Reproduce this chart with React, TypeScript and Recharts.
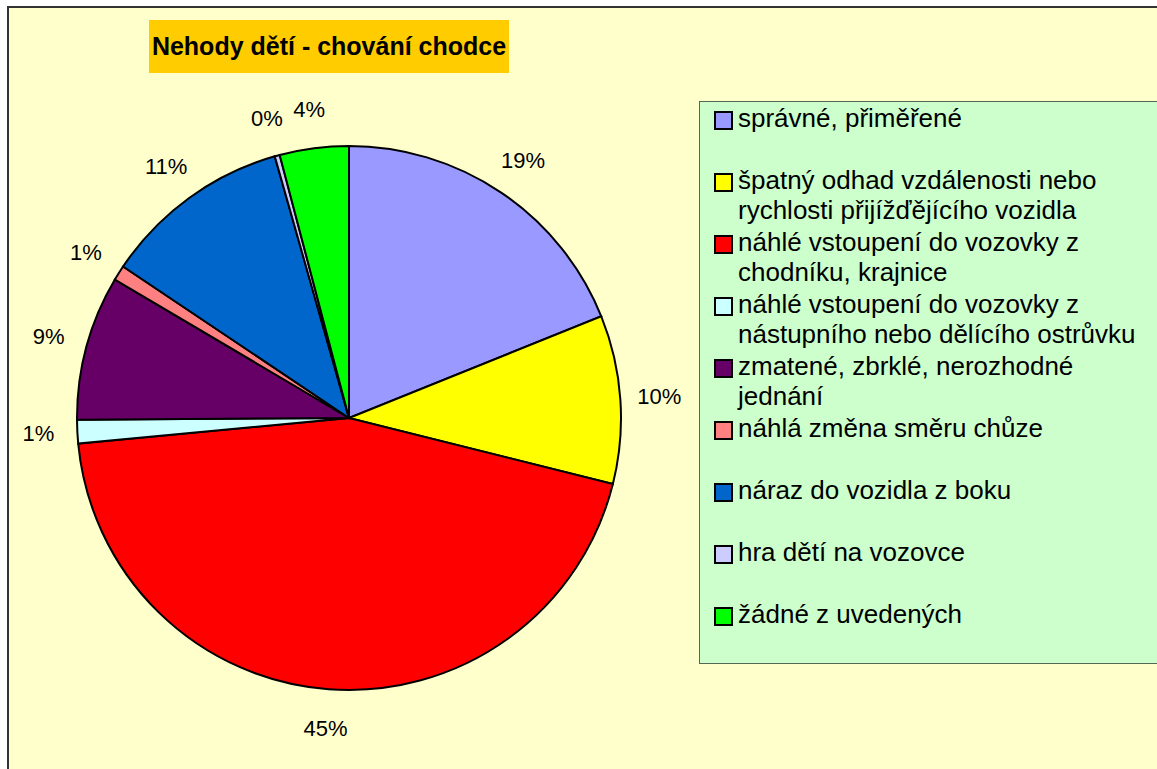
import { PieChart, Pie, Cell, Legend } from "recharts";

const categories = [
  "správné, přiměřené",
  "špatný odhad vzdálenosti nebo rychlosti přijížďějícího vozidla",
  "náhlé vstoupení do vozovky z chodníku, krajnice",
  "náhlé vstoupení do vozovky z nástupního nebo dělícího ostrůvku",
  "zmatené, zbrklé, nerozhodné jednání",
  "náhlá změna směru chůze",
  "náraz do vozidla z boku",
  "hra dětí na vozovce",
  "žádné z uvedených",
];

const shares = [18.9, 10.0, 44.6, 1.4, 8.6, 0.9, 11.2, 0.3, 4.1];

const colors = [
  "#9999FF",
  "#FFFF00",
  "#FF0000",
  "#CCFFFF",
  "#660066",
  "#FF8080",
  "#0066CC",
  "#CCCCFF",
  "#00FF00",
];

const chartData = categories.map((name, i) => ({ name, value: shares[i] }));

const RADIAN = Math.PI / 180;
const FONT = "Arial, 'Liberation Sans', sans-serif";

function renderLabel(props: any) {
  const { cx, cy, midAngle, outerRadius, percent } = props;
  const r = outerRadius + 39;
  const x = cx + r * Math.cos(-midAngle * RADIAN);
  const y = cy + r * Math.sin(-midAngle * RADIAN);
  return (
    <text
      x={x}
      y={y}
      fill="#000"
      fontSize={22}
      fontFamily={FONT}
      textAnchor="middle"
      dominantBaseline="central"
    >
      {Math.round(percent * 100)}%
    </text>
  );
}

function LegendBox() {
  return (
    <div
      style={{
        position: "absolute",
        left: 699,
        top: 101,
        width: 470,
        height: 563,
        background: "#CCFFCC",
        border: "1px solid #556655",
        boxSizing: "border-box",
        paddingTop: 1,
        fontFamily: FONT,
        fontSize: 26,
        lineHeight: "30px",
        color: "#000",
      }}
    >
      {categories.map((name, i) => (
        <div
          key={name}
          style={{ display: "flex", height: 62, paddingLeft: 14 }}
        >
          <span
            style={{
              width: 15,
              height: 15,
              border: "2px solid #000",
              background: colors[i],
              marginTop: 8,
              marginRight: 5,
              flexShrink: 0,
            }}
          />
          <span style={{ width: 412 }}>{name}</span>
        </div>
      ))}
    </div>
  );
}

export default function App() {
  return (
    <div
      style={{
        position: "absolute",
        left: 0,
        top: 0,
        width: 1157,
        height: 769,
        overflow: "hidden",
        background: "#fff",
      }}
    >
      <div
        style={{
          position: "absolute",
          left: 7,
          top: 6,
          width: 1170,
          height: 790,
          background: "#FFFFCC",
          border: "2px solid #333",
          boxSizing: "border-box",
        }}
      />
      <div
        style={{
          position: "absolute",
          left: 149,
          top: 20,
          width: 360,
          height: 53,
          background: "#FFCC00",
          fontFamily: FONT,
          fontWeight: "bold",
          fontSize: 25,
          lineHeight: "53px",
          textAlign: "center",
          color: "#000",
        }}
      >
        Nehody dětí - chování chodce
      </div>
      <div style={{ position: "absolute", left: 0, top: 0 }}>
        <PieChart
          width={1157}
          height={769}
          margin={{ top: 0, right: 0, bottom: 0, left: 0 }}
        >
          <Pie
            data={chartData}
            dataKey="value"
            nameKey="name"
            cx={349}
            cy={418}
            outerRadius={272}
            startAngle={90}
            endAngle={-270}
            stroke="#000"
            strokeWidth={2}
            label={renderLabel}
            labelLine={false}
            isAnimationActive={false}
          >
            {chartData.map((d, i) => (
              <Cell key={d.name} fill={colors[i]} />
            ))}
          </Pie>
          <Legend content={() => null} />
        </PieChart>
      </div>
      <LegendBox />
    </div>
  );
}
